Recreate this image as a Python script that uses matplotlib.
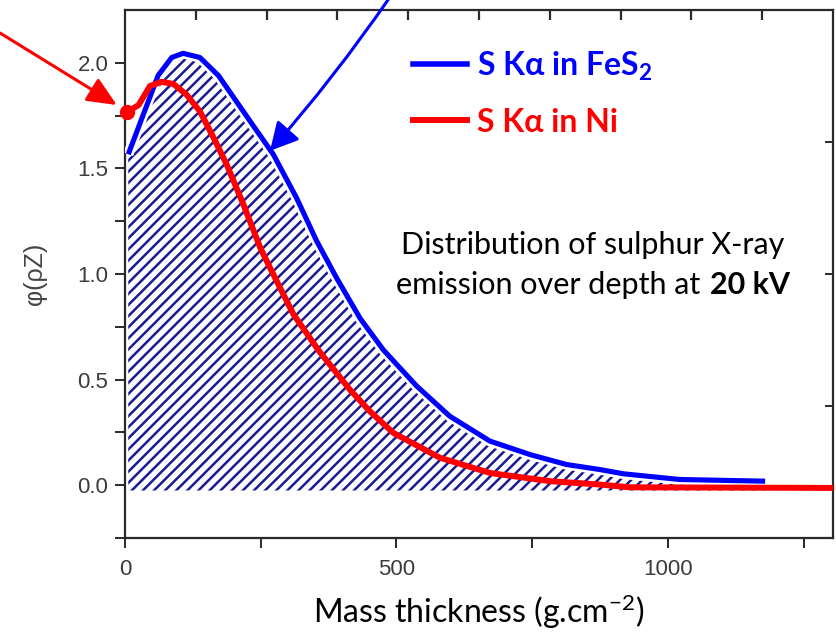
import matplotlib
matplotlib.use("Agg")
import matplotlib.pyplot as plt
import matplotlib.patheffects as pe
from matplotlib.lines import Line2D
from matplotlib.font_manager import FontProperties
from matplotlib.offsetbox import TextArea, HPacker, VPacker, AnnotationBbox


# *** DATA
fes2_x = [6, 34, 61, 86, 107, 138, 172, 199, 230, 273, 316, 353, 390, 433, 476,
          537, 598, 672, 746, 813, 875, 918, 1022, 1179]
fes2_y = [1.567, 1.757, 1.94, 2.025, 2.045, 2.025, 1.94, 1.84, 1.725, 1.567, 1.36,
          1.156, 0.98, 0.79, 0.64, 0.47, 0.327, 0.209, 0.145, 0.098, 0.074, 0.054,
          0.027, 0.019]

ni_x = [3, 25, 46, 67, 89, 113, 138, 163, 187, 218, 249, 267, 310, 356, 414, 451,
        494, 580, 672, 783, 875, 930, 1310]
ni_y = [1.765, 1.80, 1.89, 1.91, 1.90, 1.85, 1.77, 1.646, 1.52, 1.33, 1.125, 1.03,
        0.81, 0.64, 0.453, 0.35, 0.248, 0.13, 0.058, 0.019, 0.003, -0.01, -0.013]

series_labels = ["S K\u03b1 in FeS$_2$", "S K\u03b1 in Ni"]
x_ticks = [0, 500, 1000]
y_ticks = [0.0, 0.5, 1.0, 1.5, 2.0]
hatch_floor = -0.025

BLUE = "#0000ff"
RED = "#ff0000"
NAVY = "#1a1a96"
TICK_GREY = "#3c3c3c"

plt.rcParams["mathtext.default"] = "regular"
plt.rcParams["hatch.linewidth"] = 1.8
calibri = ["Lato", "DejaVu Sans"]
arial = ["Liberation Sans", "DejaVu Sans"]


def main():
  fig = plt.figure(figsize=(8.36, 6.35), dpi=100)
  ax = fig.add_axes([125 / 836, 97 / 635, 708 / 836, 528 / 635])

  # hatched area under the FeS2 curve
  ax.fill_between(fes2_x, hatch_floor, fes2_y, facecolor="white", edgecolor=NAVY,
                  hatch="///", linewidth=0, zorder=1)

  ax.plot(fes2_x, fes2_y, color=BLUE, lw=3.7, solid_capstyle="butt", zorder=3,
          path_effects=[pe.Stroke(linewidth=7.5, foreground="white"), pe.Normal()])
  ax.plot(ni_x, ni_y, color=RED, lw=4.3, solid_capstyle="butt", zorder=4)
  ax.plot(ni_x[:1], ni_y[:1], "o", color=RED, ms=10, zorder=5, clip_on=False)

  ax.set_xlim(0, 1304)
  ax.set_ylim(-0.25, 2.25)
  ax.set_xticks(x_ticks)
  ax.set_xticks([250, 750, 1250], minor=True)
  ax.set_yticks(y_ticks)
  ax.set_yticks([-0.25, 0.25, 0.75, 1.25, 1.75], minor=True)
  ax.set_yticklabels([f"{v:.1f}" for v in y_ticks])

  for s in ax.spines.values():
    s.set_color("#2a2a2a")
    s.set_linewidth(1.6)
  ax.tick_params(which="both", direction="out", length=7, width=1.4, color="#2a2a2a")
  ax.tick_params(axis="y", labelsize=16, labelcolor=TICK_GREY, pad=5)
  ax.tick_params(axis="x", labelsize=16, labelcolor=TICK_GREY, pad=8)
  for lab in ax.get_xticklabels() + ax.get_yticklabels():
    lab.set_family(arial)

  # mirrored ticks on top and right (no labels)
  top = ax.twiny()
  top.set_xlim(0, 1)
  top.set_xticks([0.1, 0.2, 0.3, 0.4, 0.5, 0.6, 0.7, 0.8, 0.9])
  top.tick_params(direction="in", length=7, width=1.6, color="#2a2a2a", labeltop=False)
  right = ax.twinx()
  right.set_ylim(0, 1)
  right.set_yticks([0.25, 0.5, 0.75])
  right.tick_params(direction="in", length=6, width=1.4, color="#2a2a2a", labelright=False)
  for a in (top, right):
    for s in a.spines.values():
      s.set_visible(False)

  ax.set_xlabel("Mass thickness (g.cm$^{-2}$)", family=calibri, fontsize=23, labelpad=9)
  ax.set_ylabel("\u03c6(\u03c1Z)", family=arial, fontsize=18, color="#444444", labelpad=22)

  # legend
  handles = [Line2D([], [], color=BLUE, lw=4), Line2D([], [], color=RED, lw=4.3)]
  ax.legend(handles, series_labels, loc="upper left", bbox_to_anchor=(0.407, 0.925),
            frameon=False, labelcolor="linecolor", handlelength=1.7, handletextpad=0.3,
            labelspacing=0.78, borderpad=0, borderaxespad=0,
            prop=FontProperties(family=calibri, weight="bold", size=23))

  # annotation text
  font_r = dict(family=calibri, fontsize=22, color="black")
  font_b = dict(family=calibri, fontsize=22, color="black", weight="bold")
  line1 = TextArea("Distribution of sulphur X-ray", textprops=font_r)
  line2 = HPacker(children=[TextArea("emission over depth at", textprops=font_r),
                            TextArea("20 kV", textprops=font_b)], sep=7, pad=0)
  block = VPacker(children=[line1, line2], align="center", sep=9, pad=0)
  ax.add_artist(AnnotationBbox(block, (0.661, 0.517), xycoords="axes fraction",
                               frameon=False, box_alignment=(0.5, 0.5)))

  # arrows
  ax.annotate("", xy=(-15, 1.80), xycoords="data", xytext=(0, 602),
              textcoords="figure pixels", annotation_clip=False,
              arrowprops=dict(arrowstyle="-|>,head_length=18,head_width=8",
                              mutation_scale=1, color=RED, lw=2.2,
                              shrinkA=0, shrinkB=0))
  ax.annotate("", xy=(267, 1.583), xycoords="data", xytext=(390, 638),
              textcoords="figure pixels", annotation_clip=False,
              arrowprops=dict(arrowstyle="-|>,head_length=17,head_width=9",
                              mutation_scale=1, color=BLUE, lw=2.2,
                              shrinkA=0, shrinkB=0,
                              connectionstyle="arc3,rad=-0.03"))

  fig.savefig("out.png", dpi=100, facecolor="white")


if __name__ == "__main__":
  main()
